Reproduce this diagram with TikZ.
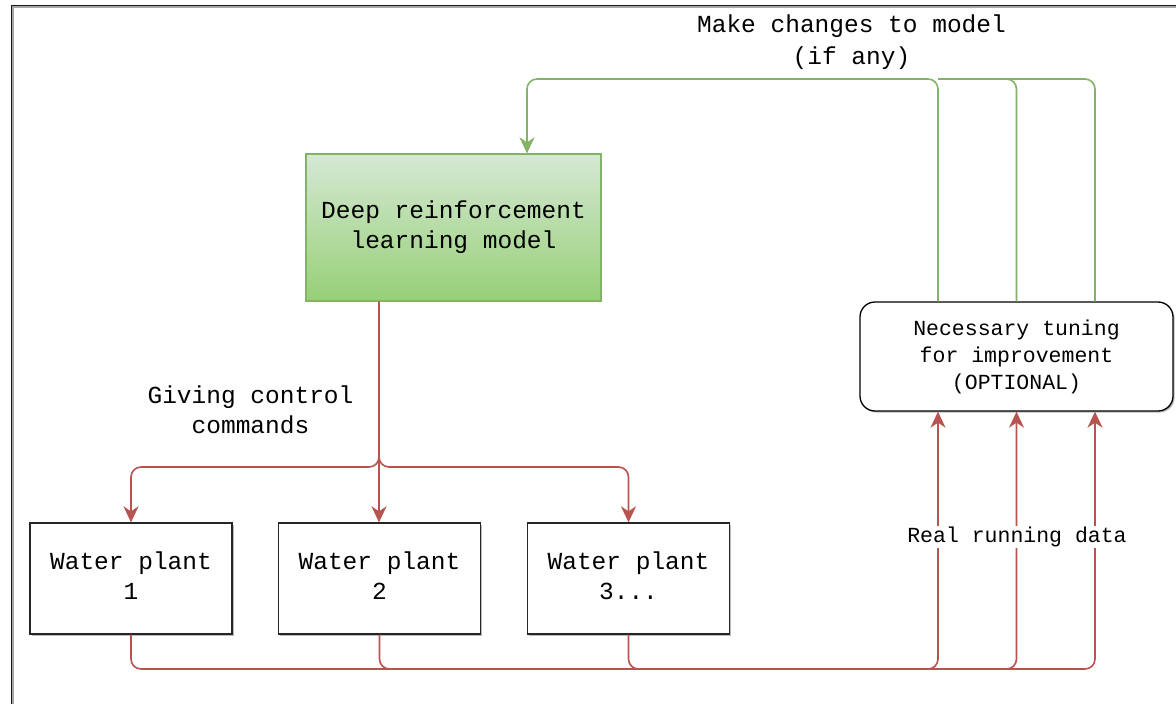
\documentclass[tikz,border=0pt]{standalone}
\usepackage{fontspec}
\setmainfont{Liberation Mono}
\usetikzlibrary{arrows.meta,shadows,calc}
\definecolor{gline}{HTML}{82B366}
\definecolor{rline}{HTML}{B85450}
\definecolor{gtop}{HTML}{D5E8D4}
\definecolor{gbot}{HTML}{97D077}
\newcommand{\plantlabel}[1]{\raisebox{2.5pt}{\begin{tabular}{@{}c@{}}Water plant\\#1\end{tabular}}}
\tikzset{
  big/.style={font=\fontsize{24.5}{30}\selectfont, align=center},
  small/.style={font=\fontsize{21.5}{27}\selectfont, align=center},
  shad/.style={drop shadow={shadow xshift=1.6pt, shadow yshift=-1.6pt, opacity=0.45, fill=black!60}},
  plant/.style={big, draw=black!85, line width=1.3pt, fill=white, minimum width=202pt, minimum height=111pt, inner sep=0pt, shad},
  drlbox/.style={big, draw=gline, line width=1.3pt, top color=gtop, bottom color=gbot, minimum width=295pt, minimum height=147pt, inner sep=0pt},
  tunebox/.style={small, draw=black, line width=1.3pt, fill=white, rounded corners=15pt, minimum width=313pt, minimum height=109pt, inner sep=0pt, shad},
  garrow/.style={draw=gline, line width=1.6pt, rounded corners=10pt},
  rarrow/.style={draw=rline, line width=1.6pt, rounded corners=10pt},
  tip/.style={-{Stealth[length=16pt,width=15pt,inset=5pt]}},
}
\begin{document}
\begin{tikzpicture}[x=1pt,y=-1pt]
\useasboundingbox (0,0) rectangle (1176,704);
% frame lines
\draw[black!35, line width=1.6pt] (13,707) -- (13,7.2) -- (1180,7.2);
\draw[black!90, line width=1.3pt] (11.5,707) -- (11.5,5.6) -- (1180,5.6);

% nodes
\node[drlbox] (drl) at (453.5,227.5) {Deep reinforcement\\learning model};
\node[tunebox] (tune) at (1016.5,356.5) {Necessary tuning\\for improvement\\(OPTIONAL)};
\node[plant] (p1) at (131,578.5) {\plantlabel{1}};
\node[plant] (p2) at (379.5,578.5) {\plantlabel{2}};
\node[plant] (p3) at (628.5,578.5) {\plantlabel{3...}};

% coordinates
\coordinate (gtopc) at (527,79);
\coordinate (split) at (379,467);
\coordinate (bot) at (0,669);
\coordinate (t1) at ($(tune.south)+(-78.5,0)$);
\coordinate (t2) at (tune.south);
\coordinate (t3) at ($(tune.south)+(78.5,0)$);
\coordinate (u1) at ($(tune.north)+(-78.5,0)$);
\coordinate (u2) at (tune.north);
\coordinate (u3) at ($(tune.north)+(78.5,0)$);

% green feedback
\draw[garrow] (u3) |- (u1 |- gtopc);
\draw[garrow] (u2) |- (u1 |- gtopc);
\draw[garrow,tip] (u1) |- (gtopc) -- (drl.north -| gtopc);

% red control commands
\draw[rarrow,tip] (drl.south -| split) -- (split) -| (p1.north);
\draw[rarrow,tip] (drl.south -| split) -- (split) -| (p3.north);
\draw[rarrow,tip] (drl.south -| split) -- (p2.north -| split);

% red running data
\draw[rarrow,tip] (p1.south) |- (bot -| t3) -- (t3);
\draw[rarrow,tip] (p2.south) |- (bot -| t2) -- (t2);
\draw[rarrow,tip] (p3.south) |- (bot -| t1) -- (t1);

% labels
\node[small, fill=white, inner sep=1pt] (rrd) at (1017,537) {Real running data};
\node[big] (gcc) at (250.5,410) {Giving control\\commands};
\node[big, font=\fontsize{24.5}{32}\selectfont] (mc) at (851.5,42) {Make changes to model\\(if any)};
\end{tikzpicture}
\end{document}
